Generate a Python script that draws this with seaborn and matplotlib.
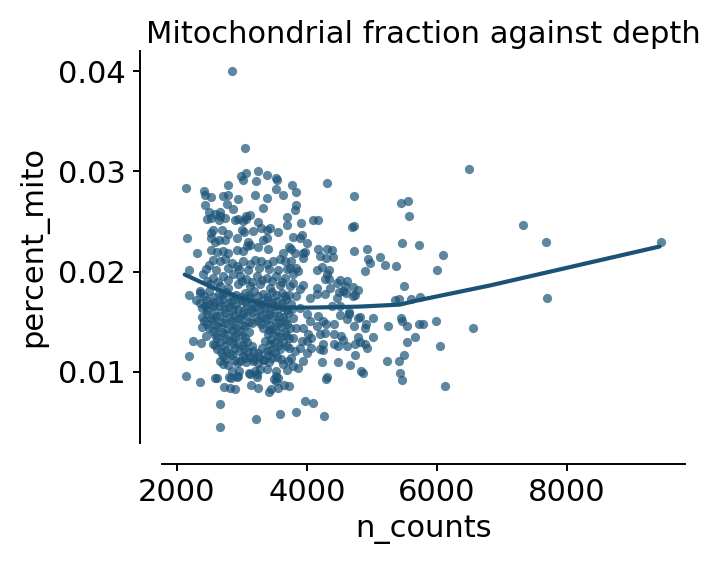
import numpy as np
import pandas as pd
import matplotlib
matplotlib.use("Agg")
import matplotlib.pyplot as plt
import seaborn as sns

# Values (n_counts, percent_mito), grouped by region

# sparse cells and outliers all around the cloud
x_sparse = [2840, 3050, 2140, 6490, 4310, 7320, 7680, 9450, 7690, 6560,
            6120, 6050, 6100, 6010, 5980, 5730, 5730, 5790, 5450, 5560,
            5570, 5470, 5500, 5420, 5360, 5610, 5450, 5470, 5540, 5540,
            5660, 5490, 5420, 5430, 5470, 5230, 5250, 5370, 5130, 5200,
            4930, 4940, 4900, 5010, 4820, 5020, 4900, 4930, 4860, 4830,
            4720, 4720, 4690, 4720, 4710, 4790, 4710, 4650, 4780, 4720,
            4740, 4670, 4480, 4480, 4500, 4510, 4310, 4390, 4290, 4310,
            4310, 4290, 4260, 4090, 3970, 3840, 3590, 3210, 2670, 2670,
            3720, 3450, 3420, 3140, 2890, 2730, 2590, 2360, 2140, 2800,
            2830, 2850, 2190, 2250, 2370, 2380, 2450, 2550, 2180, 2350,
            2190, 2160, 2310, 2530, 2420, 2430, 2430, 2470, 2530, 2590,
            2660, 2710, 2780, 2940, 3010, 2990, 3200, 3250, 3390, 3520,
            3540, 3520, 3630, 3770, 3830, 3840, 3810, 3700, 3910, 4090,
            4170, 3320, 3060]
y_sparse = [0.0400, 0.0323, 0.0283, 0.0302, 0.0288, 0.0246, 0.0229, 0.0229, 0.0174, 0.0144,
            0.0086, 0.0126, 0.0217, 0.0202, 0.0151, 0.0226, 0.0148, 0.0148, 0.0268, 0.0270,
            0.0255, 0.0228, 0.0186, 0.0173, 0.0172, 0.0173, 0.0154, 0.0151, 0.0146, 0.0130,
            0.0135, 0.0117, 0.0111, 0.0099, 0.0092, 0.0111, 0.0146, 0.0206, 0.0215, 0.0207,
            0.0223, 0.0213, 0.0201, 0.0154, 0.0155, 0.0135, 0.0128, 0.0124, 0.0099, 0.0101,
            0.0275, 0.0245, 0.0244, 0.0221, 0.0185, 0.0182, 0.0176, 0.0158, 0.0154, 0.0146,
            0.0117, 0.0107, 0.0110, 0.0126, 0.0180, 0.0192, 0.0223, 0.0222, 0.0214, 0.0198,
            0.0095, 0.0093, 0.0056, 0.0069, 0.0071, 0.0060, 0.0058, 0.0053, 0.0045, 0.0068,
            0.0086, 0.0083, 0.0080, 0.0087, 0.0083, 0.0085, 0.0094, 0.0090, 0.0096, 0.0095,
            0.0094, 0.0101, 0.0116, 0.0131, 0.0129, 0.0145, 0.0136, 0.0128, 0.0177, 0.0181,
            0.0202, 0.0233, 0.0219, 0.0233, 0.0280, 0.0276, 0.0266, 0.0252, 0.0253, 0.0257,
            0.0259, 0.0275, 0.0286, 0.0272, 0.0291, 0.0295, 0.0276, 0.0300, 0.0296, 0.0293,
            0.0291, 0.0282, 0.0276, 0.0286, 0.0279, 0.0266, 0.0261, 0.0254, 0.0248, 0.0251,
            0.0251, 0.0263, 0.0255]

# lower part of the cloud
x_low = [2440, 2430, 2560, 2610, 2920, 2940, 2960, 2810, 3110, 3200,
         3250, 3230, 3560, 3640, 2660, 2710, 2790, 3170, 3250, 3340,
         3420, 3520, 3530, 3520, 3690, 3710, 3790, 3870, 3490, 3550,
         3120, 3230, 3280, 3380, 2970, 3020]
y_low = [0.0172, 0.0166, 0.0166, 0.0094, 0.0095, 0.0096, 0.0101, 0.0084, 0.0099, 0.0101,
         0.0084, 0.0095, 0.0084, 0.0087, 0.0111, 0.0108, 0.0107, 0.0111, 0.0109, 0.0112,
         0.0110, 0.0101, 0.0091, 0.0096, 0.0102, 0.0111, 0.0106, 0.0104, 0.0093, 0.0094,
         0.0098, 0.0098, 0.0103, 0.0103, 0.0111, 0.0116]

# right of the core, below the fit
x_right_low = [3840, 4050, 4150, 4280, 4600, 4740, 5740, 4910, 4890, 4790,
               4240, 3940, 4420, 4530, 4560, 4620, 4740, 4820, 4250, 4410,
               4280, 4300, 4410, 4150, 4170, 4050, 4510, 4610, 4650, 4510,
               4380, 4020, 3940, 3920, 4070, 4200, 4000, 3790, 3820, 3760]
y_right_low = [0.0176, 0.0174, 0.0178, 0.0178, 0.0179, 0.0177, 0.0175, 0.0148, 0.0144, 0.0135,
               0.0110, 0.0111, 0.0128, 0.0136, 0.0132, 0.0126, 0.0128, 0.0130, 0.0122, 0.0138,
               0.0139, 0.0148, 0.0148, 0.0146, 0.0156, 0.0151, 0.0157, 0.0153, 0.0160, 0.0166,
               0.0166, 0.0138, 0.0144, 0.0131, 0.0124, 0.0123, 0.0119, 0.0134, 0.0121, 0.0114]

# right of the core, above the fit
x_right_high = [3790, 3920, 3890, 3760, 3820, 3970, 4170, 4400, 4970, 3760,
                3840, 3790, 3870, 3940, 4150, 4230, 4340, 4280, 4340, 4460,
                4590, 3940, 4150, 4350, 3790,
                4460, 4560, 4610, 3940, 4000, 4200, 3890, 3890, 4000, 4250,
                3790, 3840, 3890, 4000, 4070, 4200, 4250]
y_right_high = [0.0234, 0.0236, 0.0233, 0.0223, 0.0219, 0.0220, 0.0223, 0.0215, 0.0209, 0.0211,
                0.0204, 0.0198, 0.0201, 0.0219, 0.0202, 0.0205, 0.0202, 0.0193, 0.0193, 0.0189,
                0.0186, 0.0187, 0.0184, 0.0184, 0.0189,
                0.0174, 0.0181, 0.0191, 0.0214, 0.0228, 0.0216, 0.0183, 0.0164, 0.0158, 0.0151,
                0.0154, 0.0144, 0.0124, 0.0131, 0.0134, 0.0138, 0.0128]

# upper part of the core
x_upper = [3060, 3210, 2530, 2790, 3380, 2770, 2500, 2660, 2640, 2870,
           3120, 2740, 2890, 2940, 3020, 3070, 3250, 3700, 2550, 2530,
           2690, 2790, 3000, 3030, 3170, 3290, 3380, 3430, 3560, 2590,
           2650, 2740, 2920, 3100, 3120, 3330, 3380, 2530, 2610, 2710,
           2790, 2920, 3020, 3080, 3250, 3400, 3630, 3730, 2500, 2560,
           2660, 2740, 2840, 2920, 3020, 3120, 3200, 3300, 3380, 3480,
           3590, 3660, 3740, 2400, 2560, 2710, 2870, 2970, 3070, 3230,
           3380, 3530, 3660, 2510, 2660, 2790, 2940, 3120, 3280, 3430,
           3590, 3740,
           2450, 2600, 2780, 2950, 3100, 3260, 3420, 3560, 3700,
           2470, 2630, 2790, 3000, 3160, 3310, 3460, 3610]
y_upper = [0.0298, 0.0290, 0.0274, 0.0276, 0.0273, 0.0267, 0.0259, 0.0255, 0.0251, 0.0262,
           0.0256, 0.0253, 0.0251, 0.0252, 0.0250, 0.0252, 0.0249, 0.0246, 0.0241, 0.0238,
           0.0241, 0.0237, 0.0241, 0.0239, 0.0240, 0.0243, 0.0241, 0.0243, 0.0239, 0.0229,
           0.0231, 0.0231, 0.0233, 0.0229, 0.0226, 0.0231, 0.0233, 0.0222, 0.0220, 0.0221,
           0.0219, 0.0222, 0.0221, 0.0225, 0.0224, 0.0223, 0.0219, 0.0224, 0.0207, 0.0212,
           0.0211, 0.0213, 0.0209, 0.0206, 0.0211, 0.0208, 0.0212, 0.0211, 0.0208, 0.0211,
           0.0213, 0.0211, 0.0204, 0.0198, 0.0194, 0.0196, 0.0198, 0.0196, 0.0193, 0.0196,
           0.0194, 0.0196, 0.0194, 0.0188, 0.0186, 0.0184, 0.0188, 0.0186, 0.0188, 0.0184,
           0.0187, 0.0186,
           0.0203, 0.0202, 0.0204, 0.0203, 0.0202, 0.0204, 0.0203, 0.0202, 0.0203,
           0.0191, 0.0190, 0.0192, 0.0191, 0.0190, 0.0192, 0.0191, 0.0190]

# dense middle of the core
x_core = [2350, 2490, 2640, 2760, 2910, 3050, 3180, 3330, 3460, 3610, 3730,
          2290, 2570, 2710, 2850, 2980, 3120, 3260, 3400, 3540, 3680,
          2385, 2660, 2800, 2940, 3080, 3215, 3350, 3490, 3630, 3770,
          2460, 2600, 2740, 2880, 3015, 3150, 3290, 3430, 3570, 3710,
          2415, 2555, 2690, 2830, 2970, 3110, 3245, 3385, 3525, 3660,
          2490, 2630, 2770, 2910, 3045, 3325, 3460, 3600, 3740,
          2585, 2725, 2860, 3000, 3400, 3540, 3675,
          2660, 2800, 2940, 3075, 3355, 3490, 3630,
          2615, 2755, 2890, 3030, 3170, 3310, 3445, 3585, 3725,
          2710, 2845, 3125, 3260, 3400, 3540,
          2920, 3060, 3630]
y_core = [0.0179, 0.0181, 0.0178, 0.0180, 0.0177, 0.0179, 0.0181, 0.0178, 0.0180, 0.0179, 0.0177,
          0.0172, 0.0170, 0.0173, 0.0171, 0.0172, 0.0174, 0.0170, 0.0172, 0.0171, 0.0173,
          0.0164, 0.0166, 0.0165, 0.0163, 0.0166, 0.0165, 0.0164, 0.0166, 0.0165, 0.0163,
          0.0158, 0.0156, 0.0159, 0.0157, 0.0158, 0.0160, 0.0157, 0.0158, 0.0156, 0.0159,
          0.0151, 0.0152, 0.0150, 0.0151, 0.0153, 0.0150, 0.0151, 0.0152, 0.0150, 0.0151,
          0.0144, 0.0145, 0.0143, 0.0144, 0.0146, 0.0144, 0.0143, 0.0145, 0.0144,
          0.0137, 0.0138, 0.0136, 0.0137, 0.0138, 0.0136, 0.0137,
          0.0130, 0.0131, 0.0129, 0.0130, 0.0131, 0.0129, 0.0130,
          0.0123, 0.0122, 0.0124, 0.0123, 0.0121, 0.0124, 0.0122, 0.0123, 0.0124,
          0.0116, 0.0117, 0.0115, 0.0116, 0.0117, 0.0115,
          0.0109, 0.0110, 0.0108]

# second, offset layer of the dense middle
x_core2 = [2420, 2560, 2700, 2840, 2980, 3115, 3255, 3390, 3530, 3670,
           2360, 2500, 2640, 2780, 2915, 3050, 3190, 3330, 3470, 3610, 3750,
           2455, 2590, 2730, 2870, 3010, 3145, 3285, 3420, 3560, 3700,
           2390, 2530, 2665, 2805, 2940, 3080, 3220, 3355, 3495, 3635,
           2460, 2600, 2735, 2875, 3010, 3150, 3290, 3430, 3565, 3700,
           2560, 2700, 2840, 2975, 3115, 3420, 3530, 3665,
           2620, 2760, 2900, 3040, 3440, 3580, 3720,
           2590, 2730, 2870, 3010, 3150, 3425, 3565, 3700,
           2680, 2820, 2960, 3100, 3240, 3380, 3510,
           2760, 2900, 3040, 3180, 3320, 3460, 3600]
y_core2 = [0.0176, 0.0175, 0.0177, 0.0176, 0.0175, 0.0177, 0.0176, 0.0175, 0.0177, 0.0176,
           0.0169, 0.0168, 0.0170, 0.0169, 0.0168, 0.0170, 0.0169, 0.0168, 0.0170, 0.0169, 0.0168,
           0.0162, 0.0161, 0.0163, 0.0162, 0.0161, 0.0163, 0.0162, 0.0161, 0.0163, 0.0162,
           0.0155, 0.0154, 0.0156, 0.0155, 0.0154, 0.0156, 0.0155, 0.0154, 0.0156, 0.0155,
           0.0148, 0.0147, 0.0149, 0.0148, 0.0147, 0.0149, 0.0148, 0.0147, 0.0149, 0.0148,
           0.0141, 0.0140, 0.0142, 0.0141, 0.0140, 0.0142, 0.0141, 0.0140,
           0.0134, 0.0133, 0.0135, 0.0134, 0.0133, 0.0135, 0.0134,
           0.0127, 0.0126, 0.0128, 0.0127, 0.0126, 0.0128, 0.0127, 0.0126,
           0.0120, 0.0119, 0.0121, 0.0120, 0.0119, 0.0121, 0.0120,
           0.0113, 0.0112, 0.0114, 0.0113, 0.0112, 0.0114, 0.0113]

# lowess trend line
lowess_x = [2120, 2550, 3010, 3540, 4050, 4810, 5430, 5690, 6810, 9430]
lowess_y = [0.0197, 0.0184, 0.0173, 0.0164, 0.0164, 0.0165, 0.0167, 0.0171, 0.0186, 0.0225]

df = pd.DataFrame({
    "n_counts": x_sparse + x_low + x_right_low + x_right_high + x_upper + x_core + x_core2,
    "percent_mito": y_sparse + y_low + y_right_low + y_right_high + y_upper + y_core + y_core2,
})
trend = pd.DataFrame({"n_counts": lowess_x, "percent_mito": lowess_y})

COLOR = "#1b5377"

sns.set_style("ticks")
plt.rcParams["font.family"] = ["DejaVu Sans"]
plt.rcParams["text.color"] = "black"
plt.rcParams["axes.labelcolor"] = "black"

fig = plt.figure(figsize=(7.23, 5.62), dpi=100)
ax = fig.add_axes([0.224, 0.212, 0.723, 0.697])

sns.scatterplot(data=df, x="n_counts", y="percent_mito", color=COLOR,
                alpha=0.7, s=44, linewidth=0, ax=ax)
sns.lineplot(data=trend, x="n_counts", y="percent_mito", color=COLOR,
             linewidth=3.0, estimator=None, sort=False, ax=ax)

ax.set_xlim(1769, 9815)
ax.set_ylim(0.0029, 0.0420)
ax.set_xticks([2000, 4000, 6000, 8000])
ax.set_yticks([0.01, 0.02, 0.03, 0.04])

ax.set_title("Mitochondrial fraction against depth", fontsize=22, pad=6)
ax.set_xlabel("n_counts", fontsize=22, labelpad=6)
ax.set_ylabel("percent_mito", fontsize=22, labelpad=7)
ax.tick_params(labelsize=22, length=5, width=1.4, color="black",
               labelcolor="black", pad=5)

sns.despine(ax=ax)
ax.spines["left"].set_position(("outward", 16))
ax.spines["bottom"].set_position(("outward", 15))
for side in ["left", "bottom"]:
    ax.spines[side].set_linewidth(1.4)
    ax.spines[side].set_color("black")

fig.savefig("out.png", dpi=100)
